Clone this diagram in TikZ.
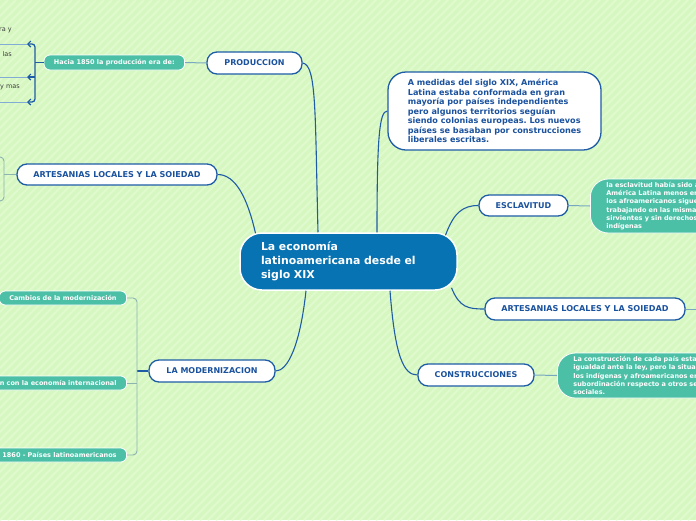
\documentclass[tikz,border=0pt]{standalone}
\usepackage{fontspec}
\setmainfont{DejaVu Sans}
\usetikzlibrary{arrows.meta}
\definecolor{bg}{RGB}{214,247,192}
\definecolor{stripe}{RGB}{223,251,206}
\definecolor{navy}{RGB}{30,92,166}
\definecolor{navytext}{RGB}{27,82,158}
\definecolor{central}{RGB}{8,115,178}
\definecolor{tealc}{RGB}{76,192,166}
\definecolor{lightlink}{RGB}{120,168,192}
\definecolor{bracketc}{RGB}{140,180,176}
\definecolor{underc}{RGB}{130,172,214}
\definecolor{grytext}{RGB}{60,60,60}
\frenchspacing
\begin{document}
\begin{tikzpicture}[x=1pt,y=-1pt,
  whitebox/.style={draw=navy, line width=1.3pt, fill=white, rounded corners=10pt,
    text=navytext, font=\bfseries\fontsize{8}{9.5}\selectfont,
    minimum height=22pt, inner sep=0pt},
  descbox/.style={draw=navy, line width=1.3pt, fill=white, rounded corners=18pt,
    text=navytext, font=\bfseries\fontsize{8.1}{9.5}\selectfont,
    align=left, inner xsep=17pt, inner ysep=0pt, minimum width=213pt, minimum height=78pt},
  centralbox/.style={draw=white, line width=1.5pt, fill=central, rounded corners=22pt,
    text=white, font=\bfseries\fontsize{10.9}{14}\selectfont,
    align=left, text width=175pt, inner xsep=21pt, inner ysep=0pt,
    minimum width=217pt, minimum height=57pt},
  tealbig/.style={draw=white, line width=0.8pt, fill=tealc, rounded corners=18pt,
    text=white, font=\bfseries\fontsize{6.5}{8.3}\selectfont,
    align=left, text width=150pt, inner xsep=16pt, inner ysep=2pt},
  tealsmall/.style={draw=white, line width=0.8pt, fill=tealc, rounded corners=6pt,
    text=white, font=\bfseries\fontsize{6.5}{8}\selectfont,
    inner xsep=10pt, inner ysep=0pt, minimum height=14pt},
  subtext/.style={text=grytext, font=\fontsize{6.5}{8}\selectfont, inner sep=0pt},
  mainlink/.style={draw=navy, line width=1.1pt},
  lightlinkst/.style={draw=lightlink, line width=1pt},
  bracketlight/.style={draw=bracketc, line width=0.9pt, rounded corners=4pt},
  bracketdark/.style={draw=navy, line width=1.3pt},
  underline/.style={draw=underc, line width=0.9pt},
  barb/.tip={Straight Barb[length=3pt,width=6pt,line width=1.2pt]}
]
\useasboundingbox (0,0) rectangle (696,520);
\clip (0,0) rectangle (696,520);
\fill[bg] (0,0) rectangle (696,520);
\foreach \i in {-520,-512,...,700} \draw[stripe, line width=2pt] (\i,520) -- (\i+520,0);

% central
\node[centralbox] (c) at (348.5,261.5) {La economía\\latinoamericana desde el\\siglo XIX};

% branch nodes
\node[whitebox, minimum width=95pt] (prod) at (254.5,63) {PRODUCCION};
\node[whitebox, minimum width=200pt, minimum height=21pt, font=\bfseries\fontsize{8.1}{9}\selectfont] (artL) at (117,174.5) {ARTESANIAS LOCALES Y LA SOIEDAD};
\node[descbox] (desc) at (494.5,111) {A medidas del siglo XIX, América\\Latina estaba conformada en gran\\mayoría por países independientes\\pero algunos territorios seguían\\siendo colonias europeas. Los nuevos\\países se basaban por construcciones\\liberales escritas.};
\node[whitebox, minimum width=89pt, minimum height=21pt] (esc) at (523.5,205.5) {ESCLAVITUD};
\node[whitebox, minimum width=200pt, font=\bfseries\fontsize{8.1}{9}\selectfont] (artR) at (585,309) {ARTESANIAS LOCALES Y LA SOIEDAD};
\node[whitebox, minimum width=116pt] (cons) at (476,375) {CONSTRUCCIONES};
\node[whitebox, minimum width=126pt] (mod) at (212,371) {LA MODERNIZACION};

% teal detail nodes
\node[tealsmall, anchor=east, minimum height=15pt] (hacia) at (185,62.5) {Hacia 1850 la producción era de:};
\node[tealbig, anchor=west, minimum height=54pt] (escT) at (590,206) {la esclavitud había sido a\\América Latina menos en\\los afroamericanos sigue\\trabajando en las misma\\sirvientes y sin derechos\\indígenas};
\node[tealbig, anchor=west, minimum height=45pt] (consT) at (557,375.5) {La construcción de cada país estal\\igualdad ante la ley, pero la situa\\los indígenas y afroamericanos er\\subordinación respecto a otros se\\sociales.};
\node[tealsmall, anchor=east] (m1) at (127,298) {Cambios de la modernización};
\node[tealsmall, anchor=east] (m2) at (127,383) {ón con la economía internacional};
\node[tealsmall, anchor=east] (m3) at (127,455) {1860 - Países latinoamericanos};

% cut-off sub texts at top-left
\node[subtext, anchor=east] (t1) at (12,30) {ra y};
\node[subtext, anchor=east] (t2) at (12,54) {las};
\node[subtext, anchor=east] (t3) at (20,87) {y mas};
\coordinate (u1) at (27,44);
\coordinate (u2) at (27,77);
\coordinate (u3) at (27,102);
\coordinate (artRend) at (700,309);

% main connectors
\draw[mainlink] (prod.east) .. controls +(14,2) and +(-3,-120) .. ([xshift=-30.5pt]c.north);
\draw[mainlink] (artL.east) .. controls +(18,0) and +(-8,-35) .. ([xshift=-93pt,yshift=-1pt]c.north);
\draw[mainlink] ([xshift=28.5pt]c.north) .. controls +(0,-95) and +(-8,0) .. (desc.west);
\draw[mainlink] ([xshift=97pt,yshift=-3pt]c.north) .. controls +(8,-22) and +(-16,0) .. (esc.west);
\draw[mainlink] ([xshift=103pt,yshift=3pt]c.south) .. controls +(8,20) and +(-16,0) .. (artR.west);
\draw[mainlink] ([xshift=41.5pt]c.south) .. controls +(5,65) and +(-14,0) .. (cons.west);
\draw[mainlink] ([xshift=-42.5pt]c.south) .. controls +(-6,55) and +(12,0) .. (mod.east);

% light connectors
\draw[lightlinkst] (prod.west) -- (hacia.east);
\draw[lightlinkst] (esc.east) -- (escT.west);
\draw[lightlinkst] (cons.east) -- (consT.west);
\draw[lightlinkst] (artR.east) -- (artRend);

% bracket for Hacia 1850
\draw[underline] (0,44) -- (u1);
\draw[underline] (0,77) -- (u2);
\draw[underline] (0,102) -- (u3);
\draw[bracketdark] (hacia.west) -- (35,62.5);
\draw[bracketdark, rounded corners=3pt, barb-barb] (u1) -- (35,44) -- (35,102) -- (u3);
\draw[bracketdark, barb-] (u2) -- (35,77);

% bracket for left artesanias
\draw[bracketlight] (artL.west) -- (4,174.5);
\draw[bracketlight] (-6,157) -- (4,157) -- (4,201) -- (-6,201);

% bracket for modernizacion
\draw[bracketdark, line width=1.1pt] (mod.west) -- (137,371);
\draw[bracketlight] (m1.east) -- (137,298) -- (137,455) -- (m3.east);
\draw[bracketlight] (m2.east) -- (137,383);
\end{tikzpicture}
\end{document}
